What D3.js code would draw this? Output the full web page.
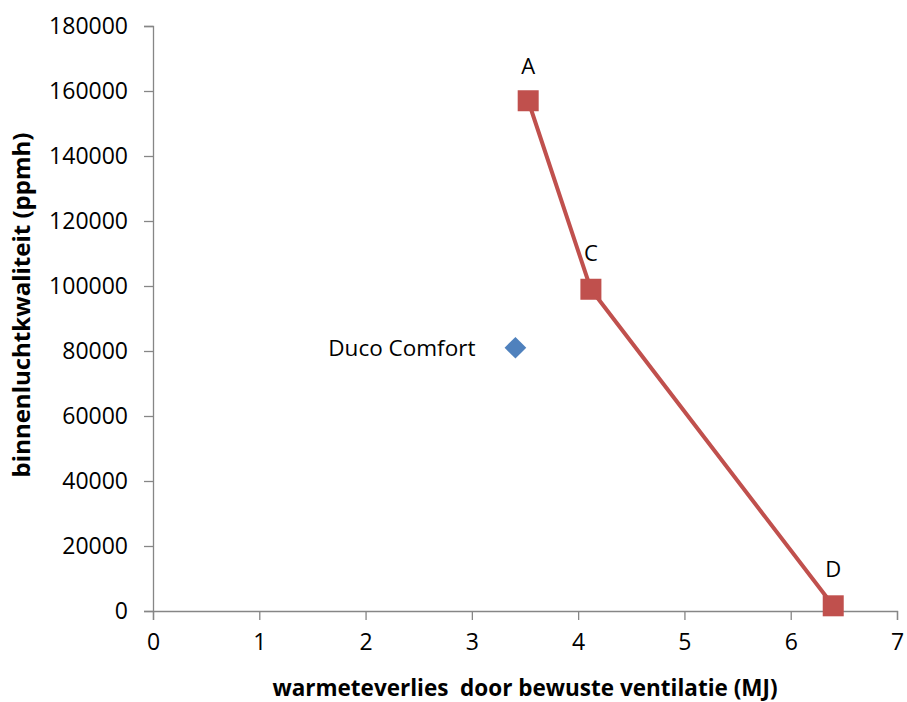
<!DOCTYPE html>
<html>
<head>
<meta charset="utf-8">
<script src="https://cdn.jsdelivr.net/npm/d3@7"></script>
<style>
  body { margin: 0; background: #fff; }
  svg text { font-family: "Open Sans", "Liberation Sans", sans-serif; fill: #000; }
</style>
</head>
<body>
<svg id="chart" width="907" height="702"></svg>
<script>
// scenario line A - C - D
var lineLabels = ["A", "C", "D"];
var lineX = [3.53, 4.12, 6.40];
var lineY = [157000, 99000, 1600];

// single point
var pointLabel = "Duco Comfort";
var pointX = 3.41;
var pointY = 81000;

var xTicks = [0, 1, 2, 3, 4, 5, 6, 7];
var yTicks = [0, 20000, 40000, 60000, 80000, 100000, 120000, 140000, 160000, 180000];

var xTitle = "warmeteverlies  door bewuste ventilatie (MJ)";
var yTitle = "binnenluchtkwaliteit (ppmh)";

var svg = d3.select('#chart');
var axisColor = '#868686';

var x = d3.scaleLinear().domain([0, 7]).range([153, 897]);
var y = d3.scaleLinear().domain([0, 180000]).range([611, 26]);

// y axis
var yAxis = svg.append('g')
  .attr('transform', 'translate(153,0)')
  .call(d3.axisLeft(y).tickValues(yTicks).tickSize(9).tickPadding(16).tickFormat(d3.format('d')));
yAxis.selectAll('text').style('font-size', '23px');

// x axis
var xAxis = svg.append('g')
  .attr('transform', 'translate(0,611)')
  .call(d3.axisBottom(x).tickValues(xTicks).tickSize(9).tickPadding(14).tickFormat(d3.format('d')));
xAxis.selectAll('text').style('font-size', '23px');

svg.selectAll('.domain, .tick line').attr('stroke', axisColor).attr('stroke-width', 1.3);

// axis titles
svg.append('text')
  .attr('x', 525).attr('y', 696)
  .attr('text-anchor', 'middle')
  .style('font-size', '22.5px').style('font-weight', 'bold')
  .style('white-space', 'pre')
  .text(xTitle);

svg.append('text')
  .attr('transform', 'translate(30,305) rotate(-90)')
  .attr('text-anchor', 'middle')
  .style('font-size', '24px').style('font-weight', 'bold')
  .text(yTitle);

// line
var pts = lineX.map((d, i) => ({ x: d, y: lineY[i], label: lineLabels[i] }));
var line = d3.line().x(d => x(d.x)).y(d => y(d.y));

svg.append('path')
  .datum(pts)
  .attr('d', line)
  .attr('fill', 'none')
  .attr('stroke', '#C0504D')
  .attr('stroke-width', 4);

svg.selectAll('.sq').data(pts).enter()
  .append('rect')
    .classed('sq', true)
    .attr('x', d => x(d.x) - 10.5)
    .attr('y', d => y(d.y) - 10.5)
    .attr('width', 21).attr('height', 21)
    .attr('fill', '#C0504D');

var labelOffset = { A: [0, -27], C: [0, -28], D: [0, -29] };
svg.selectAll('.lbl').data(pts).enter()
  .append('text')
    .classed('lbl', true)
    .attr('x', d => x(d.x) + labelOffset[d.label][0])
    .attr('y', d => y(d.y) + labelOffset[d.label][1])
    .attr('text-anchor', 'middle')
    .style('font-size', '22px')
    .text(d => d.label);

// Duco Comfort
svg.append('path')
  .attr('transform', 'translate(' + x(pointX) + ',' + y(pointY) + ')')
  .attr('d', d3.symbol().type(d3.symbolDiamond2).size(300))
  .attr('fill', '#4F81BD');

svg.append('text')
  .attr('x', x(pointX) - 40)
  .attr('y', y(pointY) + 8)
  .attr('text-anchor', 'end')
  .style('font-size', '22.5px')
  .text(pointLabel);
</script>
</body>
</html>
